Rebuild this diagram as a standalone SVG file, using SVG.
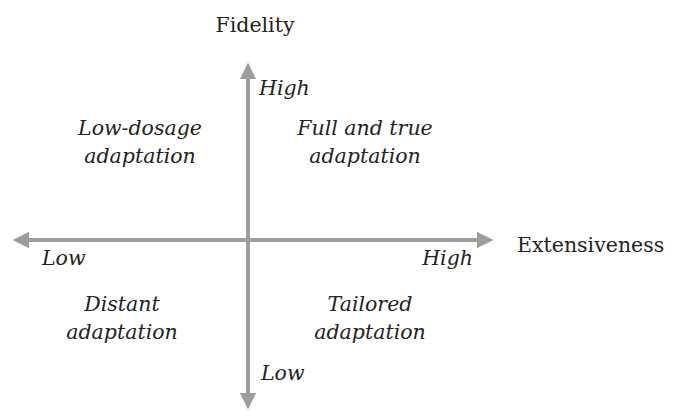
<svg xmlns="http://www.w3.org/2000/svg" width="675" height="419" viewBox="0 0 675 419">
<style>
.t{font-family:"DejaVu Serif","Liberation Serif",serif;fill:#222;font-size:20.5px}
.i{font-style:italic}
.m{text-anchor:middle}
.ax{stroke:#9d9d9d;stroke-width:4;fill:none}
</style>
<defs>
<marker id="ah" viewBox="0 0 10 10" refX="8" refY="5" markerWidth="4.2" markerHeight="4.2" orient="auto" markerUnits="strokeWidth">
<path d="M0,0 L10,5 L0,10 z" fill="#9d9d9d"/>
</marker>
</defs>
<g id="connectors">
<line class="ax" x1="248" y1="240" x2="248" y2="66" marker-end="url(#ah)"/>
<line class="ax" x1="248" y1="240" x2="248" y2="406" marker-end="url(#ah)"/>
<line class="ax" x1="248" y1="240" x2="16" y2="240" marker-end="url(#ah)"/>
<line class="ax" x1="248" y1="240" x2="490" y2="240" marker-end="url(#ah)"/>
</g>
<g id="fidelity"><text class="t m" x="255" y="32">Fidelity</text></g>
<g id="fidelity-high"><text class="t i" x="259" y="95">High</text></g>
<g id="fidelity-low"><text class="t i" x="261" y="380">Low</text></g>
<g id="extensiveness"><text class="t" x="517" y="252">Extensiveness</text></g>
<g id="ext-low"><text class="t i" x="42" y="265">Low</text></g>
<g id="ext-high"><text class="t i" x="473" y="265" text-anchor="end">High</text></g>
<g id="low-dosage"><text class="t i m" x="140" y="135">Low-dosage</text><text class="t i m" x="140" y="163">adaptation</text></g>
<g id="full-true"><text class="t i m" x="365" y="135">Full and true</text><text class="t i m" x="365" y="163">adaptation</text></g>
<g id="distant"><text class="t i m" x="122" y="311">Distant</text><text class="t i m" x="122" y="339">adaptation</text></g>
<g id="tailored"><text class="t i m" x="370" y="311">Tailored</text><text class="t i m" x="370" y="339">adaptation</text></g>
</svg>
